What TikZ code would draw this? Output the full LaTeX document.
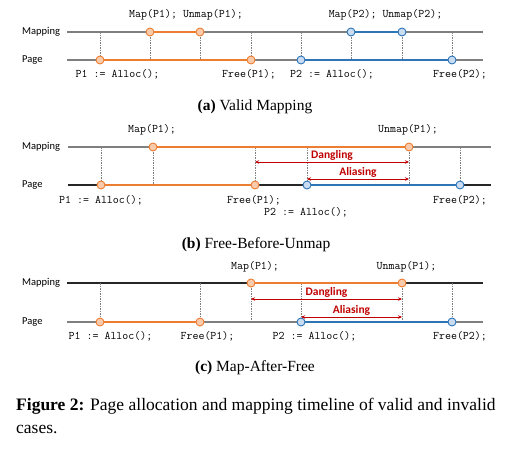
\documentclass[tikz,border=0pt]{standalone}
\usepackage{fontspec}
\setmainfont{Liberation Serif}
\newfontfamily\lanefont{Carlito}
\usetikzlibrary{arrows.meta}

\definecolor{pgorange}{HTML}{ED7D31}
\definecolor{pgorangelight}{HTML}{F8CBAD}
\definecolor{pgblue}{HTML}{2E75B6}
\definecolor{pgbluelight}{HTML}{C9DCF2}
\definecolor{axisgray}{HTML}{7F7F7F}
\definecolor{axisdark}{HTML}{262626}
\definecolor{badred}{HTML}{C00000}

\begin{document}
\begin{tikzpicture}[
  x=1pt, y=-1pt,
  >={Stealth[length=4pt,width=3.5pt]},
  axis/.style={draw=axisgray, line width=1.2pt},
  tick/.style={draw=gray, dash pattern=on 1.5pt off 1pt, line width=0.7pt},
  olife/.style={draw=pgorange, line width=1.8pt},
  blife/.style={draw=pgblue, line width=1.8pt},
  odot/.style={circle, draw=pgorange, fill=pgorangelight, line width=0.9pt, minimum size=8pt, inner sep=0pt},
  bdot/.style={circle, draw=pgblue, fill=pgbluelight, line width=0.9pt, minimum size=8pt, inner sep=0pt},
  lane/.style={font=\lanefont\fontsize{10.5}{12}\selectfont, anchor=west, inner sep=0pt},
  code/.style={font=\ttfamily\fontsize{11.6}{13}\selectfont, inner sep=0pt},
  bad/.style={<->, draw=badred, line width=0.9pt},
  badtxt/.style={font=\lanefont\bfseries\fontsize{11.5}{13}\selectfont, text=badred, inner sep=1pt},
  subcap/.style={font=\fontsize{15.5}{18}\selectfont}
]
\useasboundingbox (0,0) rectangle (509,448);

% --- (a) Valid Mapping ---
\node[lane] (aMapLbl)  at (22,32) {Mapping};
\node[lane] (aPageLbl) at (22,60) {Page};
\coordinate (aM0) at (67,32);  \coordinate (aM1) at (483,32);
\coordinate (aP0) at (67,60);  \coordinate (aP1) at (483,60);
\draw[axis] (aM0) -- (aM1);
\draw[axis] (aP0) -- (aP1);
\foreach \x [count=\i] in {100,150,200,251,301,351,402,452}{
  \coordinate (at\i) at (\x,32);
  \coordinate (ab\i) at (\x,60);
  \draw[tick] (at\i) -- (ab\i);
}
\node[odot] (aAlloc1) at (ab1) {};
\node[odot] (aMap1)   at (at2) {};
\node[odot] (aUnmap1) at (at3) {};
\node[odot] (aFree1)  at (ab4) {};
\node[bdot] (aAlloc2) at (ab5) {};
\node[bdot] (aMap2)   at (at6) {};
\node[bdot] (aUnmap2) at (at7) {};
\node[bdot] (aFree2)  at (ab8) {};
\draw[olife] (aAlloc1) -- (aFree1);
\draw[olife] (aMap1) -- (aUnmap1);
\draw[blife] (aAlloc2) -- (aFree2);
\draw[blife] (aMap2) -- (aUnmap2);

\node[code] (aTop1) at (186,15)   {Map(P1); Unmap(P1);};
\node[code] (aTop2) at (385.5,15) {Map(P2); Unmap(P2);};
\node[code] (aBot1) at (117.5,74) {P1 := Alloc();};
\node[code] (aBot2) at (249,74)   {Free(P1);};
\node[code] (aBot3) at (332,74)   {P2 := Alloc();};
\node[code] (aBot4) at (460,74)   {Free(P2);};
\node[subcap] (aCap) at (255,107) {\textbf{(a)} Valid Mapping};

% --- (b) Free-Before-Unmap ---
\node[lane] (bMapLbl)  at (22,147) {Mapping};
\node[lane] (bPageLbl) at (22,185) {Page};
\coordinate (bM0) at (68,147);  \coordinate (bM1) at (491,147);
\coordinate (bP0) at (68,185);  \coordinate (bP1) at (491,185);
\draw[axis] (bM0) -- (bM1);
\draw[axis, draw=axisdark] (bP0) -- (bP1);
\foreach \x [count=\i] in {101,153,255,307,409,460}{
  \coordinate (bt\i) at (\x,147);
  \coordinate (bb\i) at (\x,185);
  \draw[tick] (bt\i) -- (bb\i);
}
\node[odot] (bAlloc1) at (bb1) {};
\node[odot] (bMap1)   at (bt2) {};
\node[odot] (bFree1)  at (bb3) {};
\node[bdot] (bAlloc2) at (bb4) {};
\node[odot] (bUnmap1) at (bt5) {};
\node[bdot] (bFree2)  at (bb6) {};
\draw[olife] (bAlloc1) -- (bFree1);
\draw[olife] (bMap1) -- (bUnmap1);
\draw[blife] (bAlloc2) -- (bFree2);

\coordinate (bDang0) at (255,162);  \coordinate (bDang1) at (409,162);
\coordinate (bAlia0) at (307,179);  \coordinate (bAlia1) at (409,179);
\draw[bad] (bDang0) -- node[badtxt, above] (bDangTxt) {Dangling} (bDang1);
\draw[bad] (bAlia0) -- node[badtxt, above] (bAliaTxt) {Aliasing} (bAlia1);

\node[code] (bTop1) at (152,130)   {Map(P1);};
\node[code] (bTop2) at (408,130)   {Unmap(P1);};
\node[code] (bBot1) at (101,200)   {P1 := Alloc();};
\node[code] (bBot2) at (254,200)   {Free(P1);};
\node[code] (bBot3) at (306,212)   {P2 := Alloc();};
\node[code] (bBot4) at (460,200)   {Free(P2);};
\node[subcap] (bCap) at (256,245) {\textbf{(b)} Free-Before-Unmap};

% --- (c) Map-After-Free ---
\node[lane] (cMapLbl)  at (22,283) {Mapping};
\node[lane] (cPageLbl) at (22,322) {Page};
\coordinate (cM0) at (67,283);  \coordinate (cM1) at (483,283);
\coordinate (cP0) at (67,322);  \coordinate (cP1) at (483,322);
\draw[axis, draw=axisdark] (cM0) -- (cM1);
\draw[axis] (cP0) -- (cP1);
\foreach \x [count=\i] in {100,200,251,301,402,452}{
  \coordinate (ct\i) at (\x,283);
  \coordinate (cb\i) at (\x,322);
  \draw[tick] (ct\i) -- (cb\i);
}
\node[odot] (cAlloc1) at (cb1) {};
\node[odot] (cFree1)  at (cb2) {};
\node[odot] (cMap1)   at (ct3) {};
\node[bdot] (cAlloc2) at (cb4) {};
\node[odot] (cUnmap1) at (ct5) {};
\node[bdot] (cFree2)  at (cb6) {};
\draw[olife] (cAlloc1) -- (cFree1);
\draw[olife] (cMap1) -- (cUnmap1);
\draw[blife] (cAlloc2) -- (cFree2);

\coordinate (cDang0) at (251,299);  \coordinate (cDang1) at (402,299);
\coordinate (cAlia0) at (301,317);  \coordinate (cAlia1) at (402,317);
\draw[bad] (cDang0) -- node[badtxt, above] (cDangTxt) {Dangling} (cDang1);
\draw[bad] (cAlia0) -- node[badtxt, above] (cAliaTxt) {Aliasing} (cAlia1);

\node[code] (cTop1) at (255,267)   {Map(P1);};
\node[code] (cTop2) at (406.5,267) {Unmap(P1);};
\node[code] (cBot1) at (110.5,336) {P1 := Alloc();};
\node[code] (cBot2) at (207.5,336) {Free(P1);};
\node[code] (cBot3) at (314.5,336) {P2 := Alloc();};
\node[code] (cBot4) at (460,336)   {Free(P2);};
\node[subcap] (cCap) at (255,368) {\textbf{(c)} Map-After-Free};

% --- figure caption ---
\node[anchor=west, align=left, inner sep=0pt, font=\fontsize{17.5}{23}\selectfont] (figCap) at (16,416)
  {\textbf{Figure 2:} Page allocation and mapping timeline of valid and invalid\\cases.};
\end{tikzpicture}
\end{document}
